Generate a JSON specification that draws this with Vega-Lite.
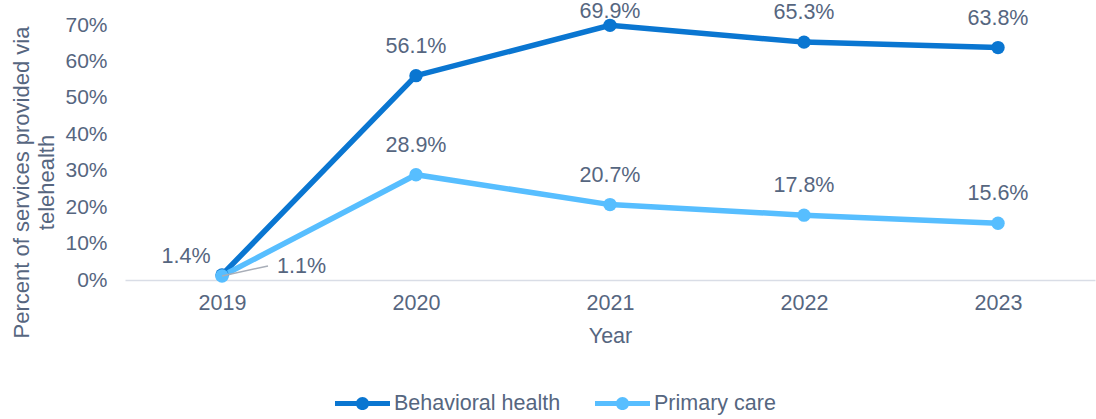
{
  "$schema": "https://vega.github.io/schema/vega-lite/v6.json",
  "width": 970,
  "height": 255,
  "autosize": {"type": "none"},
  "padding": {"left": 125, "top": 25, "right": 1, "bottom": 139},
  "background": "white",
  "config": {
    "view": {"stroke": null},
    "font": "Liberation Sans",
    "text": {"font": "Liberation Sans"}
  },
  "data": {
    "values": [
      {"Year": "2019", "Series": "Behavioral health", "Value": 0.014},
      {"Year": "2020", "Series": "Behavioral health", "Value": 0.561},
      {"Year": "2021", "Series": "Behavioral health", "Value": 0.699},
      {"Year": "2022", "Series": "Behavioral health", "Value": 0.653},
      {"Year": "2023", "Series": "Behavioral health", "Value": 0.638},
      {"Year": "2019", "Series": "Primary care", "Value": 0.011},
      {"Year": "2020", "Series": "Primary care", "Value": 0.289},
      {"Year": "2021", "Series": "Primary care", "Value": 0.207},
      {"Year": "2022", "Series": "Primary care", "Value": 0.178},
      {"Year": "2023", "Series": "Primary care", "Value": 0.156}
    ]
  },
  "encoding": {
    "x": {
      "field": "Year",
      "type": "ordinal",
      "scale": {"type": "point", "padding": 0.5},
      "axis": {
        "title": "Year",
        "labelAngle": 0,
        "labelFont": "Liberation Sans",
        "labelFontSize": 21.5,
        "labelColor": "#56667F",
        "labelPadding": 12,
        "titleFont": "Liberation Sans",
        "titleFontSize": 21.5,
        "titleFontWeight": "normal",
        "titleColor": "#56667F",
        "titlePadding": 12,
        "ticks": false,
        "grid": false,
        "domainColor": "#D9DDE6",
        "domainWidth": 1.5
      }
    },
    "y": {
      "field": "Value",
      "type": "quantitative",
      "scale": {"domain": [0, 0.7], "nice": false},
      "axis": {
        "title": ["Percent of services provided via", "telehealth"],
        "format": ".0%",
        "values": [0, 0.1, 0.2, 0.3, 0.4, 0.5, 0.6, 0.7],
        "labelFont": "Liberation Sans",
        "labelFontSize": 21,
        "labelColor": "#56667F",
        "labelPadding": 18,
        "titleFont": "Liberation Sans",
        "titleFontSize": 22,
        "titleFontWeight": "normal",
        "titleColor": "#56667F",
        "titleLineHeight": 25,
        "titleX": -114,
        "titleY": 157,
        "titleBaseline": "top",
        "titleAnchor": "middle",
        "ticks": false,
        "grid": false,
        "domain": false
      }
    }
  },
  "layer": [
    {
      "mark": {"type": "line", "strokeWidth": 5.5},
      "encoding": {
        "color": {
          "field": "Series",
          "type": "nominal",
          "scale": {"domain": ["Behavioral health", "Primary care"], "range": ["#0A76D1", "#57BEFF"]},
          "legend": {
            "title": null,
            "orient": "none",
            "direction": "horizontal",
            "legendX": 210,
            "legendY": 351,
            "symbolType": "M-1,-0.09L1,-0.09L1,0.09L-1,0.09Z M-0.24,0A0.24,0.24,0,1,1,0.24,0A0.24,0.24,0,1,1,-0.24,0Z",
            "symbolSize": 3025,
            "symbolStrokeWidth": 0,
            "labelFont": "Liberation Sans",
            "labelFontSize": 21.5,
            "labelColor": "#56667F",
            "labelOffset": 4,
            "labelLimit": 400,
            "columnPadding": 34,
            "encode": {
              "symbols": {
                "update": {
                  "fill": {"scale": "color", "field": "value"},
                  "strokeWidth": {"value": 0},
                  "opacity": {"value": 1}
                }
              }
            }
          }
        }
      }
    },
    {
      "mark": {"type": "point", "filled": true, "size": 180, "opacity": 1},
      "encoding": {
        "color": {"field": "Series", "type": "nominal"}
      }
    },
    {
      "transform": [{"filter": "datum.Year != '2019' && datum.Value < 0.69"}],
      "mark": {"type": "text", "baseline": "middle", "align": "center", "dy": -29, "fontSize": 21.5, "color": "#56667F", "font": "Liberation Sans"},
      "encoding": {"text": {"field": "Value", "type": "quantitative", "format": ".1%"}}
    },
    {
      "transform": [{"filter": "datum.Value >= 0.69"}],
      "mark": {"type": "text", "baseline": "middle", "align": "center", "dy": -13, "fontSize": 21.5, "color": "#56667F", "font": "Liberation Sans"},
      "encoding": {"text": {"field": "Value", "type": "quantitative", "format": ".1%"}}
    },
    {
      "transform": [{"filter": "datum.Year == '2019' && datum.Series == 'Behavioral health'"}],
      "mark": {"type": "text", "baseline": "middle", "align": "center", "dx": -36, "dy": -18, "fontSize": 21.5, "color": "#56667F", "font": "Liberation Sans"},
      "encoding": {"text": {"field": "Value", "type": "quantitative", "format": ".1%"}}
    },
    {
      "transform": [{"filter": "datum.Year == '2019' && datum.Series == 'Primary care'"}],
      "mark": {"type": "rule", "color": "#A8AEB8", "strokeWidth": 1.5, "x2Offset": 46, "y2Offset": -10},
      "encoding": {
        "x2": {"field": "Year"},
        "y2": {"field": "Value"}
      }
    },
    {
      "transform": [{"filter": "datum.Year == '2019' && datum.Series == 'Primary care'"}],
      "mark": {"type": "text", "baseline": "middle", "align": "left", "dx": 55, "dy": -9, "fontSize": 21.5, "color": "#56667F", "font": "Liberation Sans"},
      "encoding": {"text": {"field": "Value", "type": "quantitative", "format": ".1%"}}
    }
  ]
}
